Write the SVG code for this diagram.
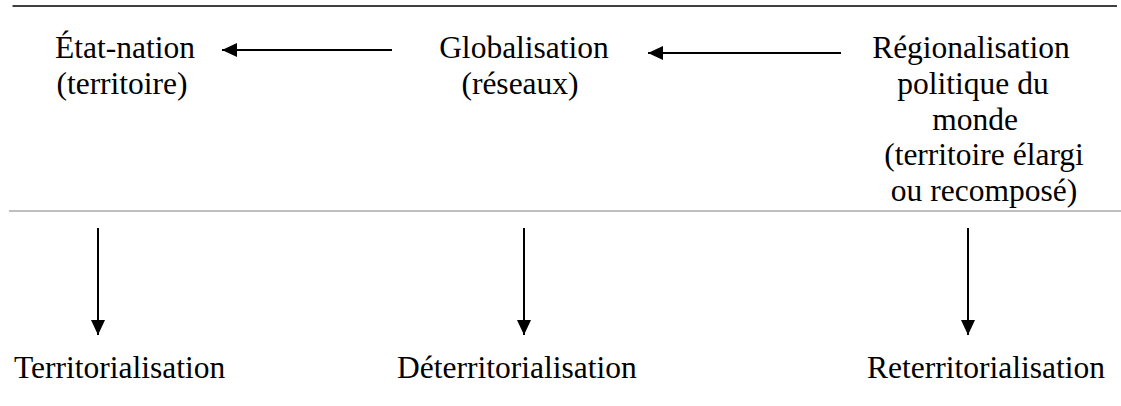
<svg xmlns="http://www.w3.org/2000/svg" width="1121" height="406" viewBox="0 0 1121 406">
<style>
text{font-family:"Liberation Serif","Times New Roman",serif;font-size:31.5px;fill:#000}
.c{text-anchor:middle}
.conn{stroke:#000;stroke-width:2;fill:none;marker-end:url(#ah)}
</style>
<defs>
<marker id="ah" markerUnits="userSpaceOnUse" markerWidth="16" markerHeight="16" viewBox="0 0 16 16" refX="15" refY="8" orient="auto">
<path d="M0,1 L15,8 L0,15 Z" fill="#000"/>
</marker>
</defs>
<rect width="1121" height="406" fill="#fff"/>
<line x1="12.5" y1="6" x2="1117" y2="6" stroke="#000" stroke-width="1.6"/>
<line x1="9" y1="211" x2="1121" y2="211" stroke="#808080" stroke-width="1.2"/>
<g id="etat-nation"><text class="c" x="125" y="58">État-nation</text><text class="c" x="122" y="94">(territoire)</text></g>
<g id="globalisation"><text class="c" x="524" y="58">Globalisation</text><text class="c" x="520" y="94">(réseaux)</text></g>
<g id="regionalisation"><text class="c" x="971" y="58">Régionalisation</text><text class="c" x="973" y="94">politique du</text><text class="c" x="975" y="130">monde</text><text class="c" x="984" y="165">(territoire élargi</text><text class="c" x="984" y="201">ou recomposé)</text></g>
<g id="territorialisation"><text x="14" y="378">Territorialisation</text></g>
<g id="deterritorialisation"><text x="397" y="378">Déterritorialisation</text></g>
<g id="reterritorialisation"><text x="867" y="378">Reterritorialisation</text></g>
<g id="connectors">
<line class="conn" x1="392" y1="50" x2="222" y2="50"/>
<line class="conn" x1="841" y1="53" x2="648" y2="53"/>
<line class="conn" x1="98" y1="228" x2="98" y2="335"/>
<line class="conn" x1="524" y1="228" x2="524" y2="335"/>
<line class="conn" x1="968" y1="228" x2="968" y2="335"/>
</g>
</svg>
